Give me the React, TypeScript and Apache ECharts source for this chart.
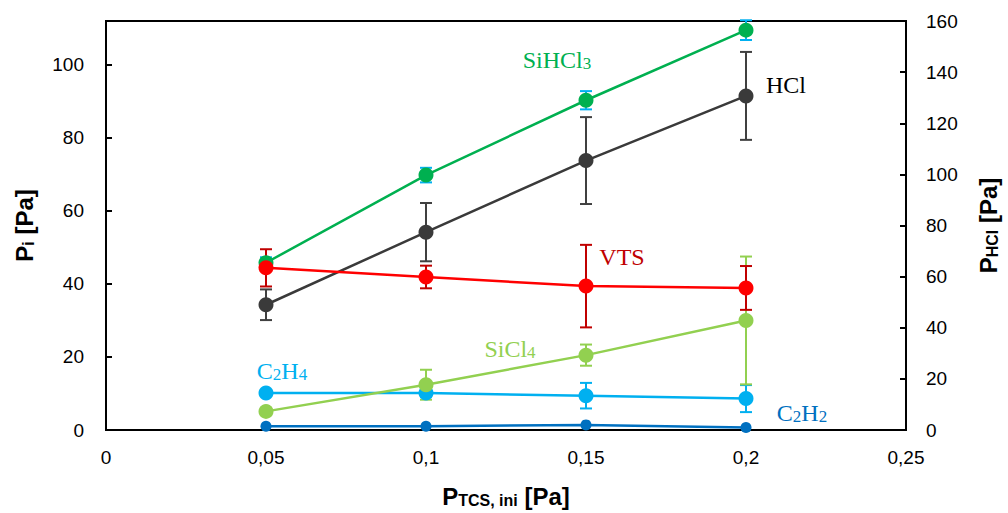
import React, { useEffect, useRef } from "react";
import * as echarts from "echarts";

const xVals = [0.05, 0.1, 0.15, 0.2];
const siHCl3 = [45.8, 69.8, 90.3, 109.5];
const siHCl3Err = [1.5, 2, 2.5, 2.7];
const hcl = [49, 77.4, 105.4, 130.7];
const hclErr = [6, 11.4, 17, 17.2];
const vts = [44.4, 41.9, 39.4, 38.9];
const vtsErr = [5.1, 3.1, 11.3, 6];
const sicl4 = [5.1, 12.4, 20.5, 30];
const sicl4Err = [1, 4.1, 2.9, 17.5];
const c2h4 = [10.1, 10.1, 9.4, 8.6];
const c2h4Err = [0.8, 1, 3.5, 3.7];
const c2h2 = [1.0, 1.0, 1.4, 0.7];

const leftTicks = [0, 20, 40, 60, 80, 100];

const pts = (ys: number[]) => xVals.map((x, i) => [x, ys[i]]);
const errPts = (ys: number[], es: number[]) => xVals.map((x, i) => [x, ys[i] - es[i], ys[i] + es[i]]);

function errSeries(ys: number[], es: number[], color: string, yAxisIndex = 0) {
  return {
    type: "custom",
    yAxisIndex,
    z: 2,
    data: errPts(ys, es),
    encode: { x: 0, y: [1, 2] },
    renderItem: (params: any, api: any) => {
      const x = api.value(0);
      const top = api.coord([x, api.value(2)]);
      const bot = api.coord([x, api.value(1)]);
      const w = 6;
      const st = { stroke: color, lineWidth: 2 };
      return {
        type: "group",
        children: [
          { type: "line", shape: { x1: top[0], y1: top[1], x2: bot[0], y2: bot[1] }, style: st },
          { type: "line", shape: { x1: top[0] - w, y1: top[1], x2: top[0] + w, y2: top[1] }, style: st },
          { type: "line", shape: { x1: bot[0] - w, y1: bot[1], x2: bot[0] + w, y2: bot[1] }, style: st },
        ],
      };
    },
  };
}

function lineSeries(name: string, ys: number[], color: string, size = 15, yAxisIndex = 0) {
  return {
    name,
    type: "line",
    yAxisIndex,
    z: 3,
    data: pts(ys),
    symbol: "circle",
    symbolSize: size,
    itemStyle: { color },
    lineStyle: { color, width: 2.5 },
  };
}

const serif = "Liberation Serif";
// parts: [text, isSubscript]
function seriesLabel(parts: [string, boolean][], color: string, x: number, y: number) {
  return {
    type: "text",
    x,
    y,
    style: {
      text: parts.map(([t, s]) => `{${s ? "s" : "a"}|${t}}`).join(""),
      rich: {
        a: { fontFamily: serif, fontSize: 24, fill: color, color, verticalAlign: "bottom", lineHeight: 26 },
        s: { fontFamily: serif, fontSize: 17, fill: color, color, verticalAlign: "bottom", lineHeight: 26 },
      },
      align: "center",
      verticalAlign: "middle",
    },
  };
}

export default function App() {
  const ref = useRef<HTMLDivElement>(null);
  useEffect(() => {
    if (!ref.current) return;
    const chart = echarts.init(ref.current, null, { renderer: "svg" });
    const axisFont = { fontFamily: "Liberation Sans", fontSize: 19, color: "#000" };
    const nameRich = {
      b: { fontFamily: "Liberation Sans", fontSize: 24, fontWeight: "bold", color: "#000", verticalAlign: "bottom", lineHeight: 28 },
      s: { fontFamily: "Liberation Sans", fontSize: 16, fontWeight: "bold", color: "#000", verticalAlign: "bottom", lineHeight: 20 },
    };
    chart.setOption({
      animation: false,
      backgroundColor: "#fff",
      grid: { left: 106, right: 102, top: 21, bottom: 82, show: true, borderColor: "#000", borderWidth: 2, backgroundColor: "transparent" },
      xAxis: {
        type: "value",
        min: 0,
        max: 0.25,
        interval: 0.05,
        axisLine: { lineStyle: { color: "#000", width: 2 } },
        axisTick: { show: false },
        splitLine: { show: false },
        axisLabel: { ...axisFont, margin: 18, formatter: (v: number) => String(+v.toFixed(2)).replace(".", ",") },
        name: "{b|P}{s|TCS, ini}{b| [Pa]}",
        nameLocation: "middle",
        nameGap: 50,
        nameTextStyle: { rich: nameRich },
      },
      yAxis: [
        {
          type: "value",
          min: 0,
          max: 112,
          interval: 20,
          axisLine: { show: true, lineStyle: { color: "#000", width: 2 } },
          axisTick: { show: true, inside: true, length: 6, lineStyle: { color: "#000", width: 2 } },
          splitLine: { show: false },
          axisLabel: { ...axisFont, margin: 22, showMaxLabel: false, formatter: (v: number) => (leftTicks.includes(v) ? String(v) : "") },
          name: "{b|P}{s|i}{b| [Pa]}",
          nameLocation: "middle",
          nameGap: 70,
          nameRotate: 90,
          nameTextStyle: { rich: nameRich },
        },
        {
          type: "value",
          min: 0,
          max: 160,
          interval: 20,
          position: "right",
          axisLine: { show: true, lineStyle: { color: "#000", width: 2 } },
          axisTick: { show: true, inside: true, length: 6, lineStyle: { color: "#000", width: 2 } },
          splitLine: { show: false },
          axisLabel: { ...axisFont, margin: 20 },
          name: "{b|P}{s|HCl}{b| [Pa]}",
          nameLocation: "middle",
          nameGap: 66,
          nameRotate: 90,
          nameTextStyle: { rich: nameRich },
        },
      ],
      series: [
        errSeries(hcl, hclErr, "#404040", 1),
        lineSeries("HCl", hcl, "#3a3a3a", 15, 1),
        errSeries(siHCl3, siHCl3Err, "#00B0F0"),
        lineSeries("SiHCl3", siHCl3, "#00B050"),
        errSeries(c2h4, c2h4Err, "#00B0F0"),
        lineSeries("C2H4", c2h4, "#00B0F0"),
        errSeries(sicl4, sicl4Err, "#92D050"),
        lineSeries("SiCl4", sicl4, "#92D050"),
        errSeries(vts, vtsErr, "#C00000"),
        lineSeries("VTS", vts, "#FF0000"),
        lineSeries("C2H2", c2h2, "#0070C0", 11),
      ],
      graphic: [
        seriesLabel([["SiHCl", false], ["3", true]], "#00B050", 557, 59),
        seriesLabel([["HCl", false]], "#000000", 786, 84),
        seriesLabel([["VTS", false]], "#C00000", 622, 256),
        seriesLabel([["SiCl", false], ["4", true]], "#92D050", 510, 348),
        seriesLabel([["C", false], ["2", true], ["H", false], ["4", true]], "#00B0F0", 282, 370),
        seriesLabel([["C", false], ["2", true], ["H", false], ["2", true]], "#0070C0", 802, 412),
      ],
    });
    return () => chart.dispose();
  }, []);
  return <div ref={ref} style={{ position: "fixed", left: 0, top: 0, width: 1008, height: 513 }} />;
}
